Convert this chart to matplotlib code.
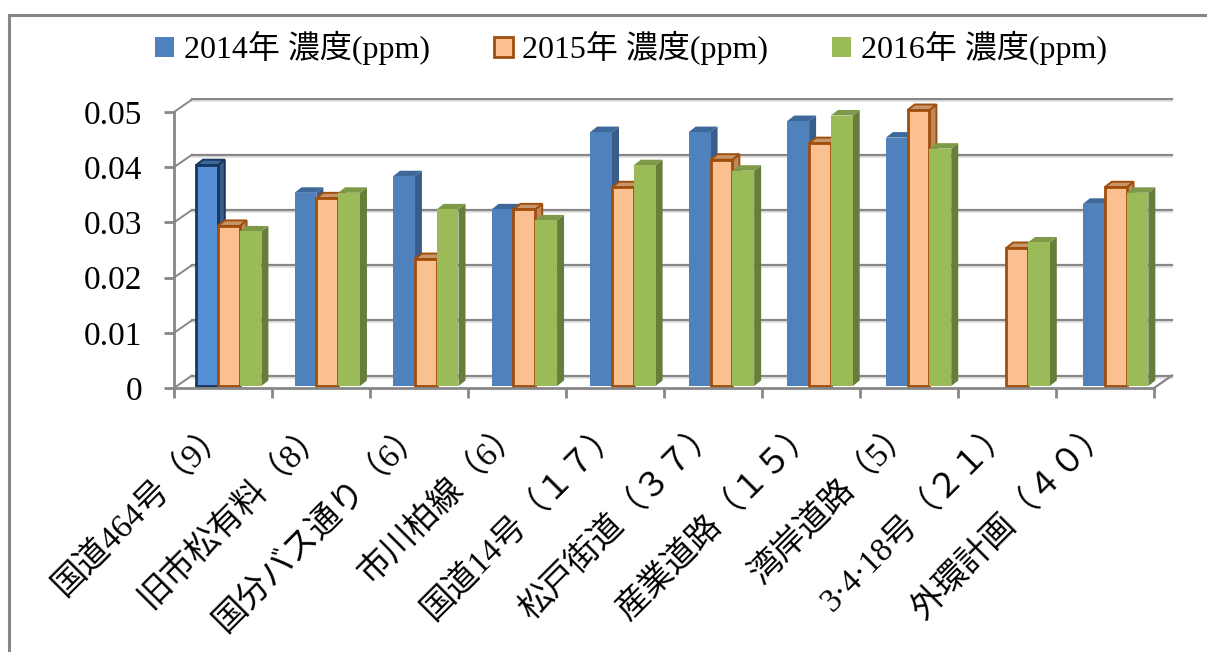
import matplotlib
matplotlib.use("Agg")
import matplotlib.pyplot as plt
from matplotlib.patches import Rectangle, Polygon, Patch
from matplotlib.transforms import ScaledTranslation

plt.rcParams['font.family'] = ['Liberation Serif', 'Noto Sans CJK JP']

# data
categories = ['国道464号（9）', '旧市松有料（8）', '国分バス通り（6）', '市川柏線（6）',
              '国道14号（１７）', '松戸街道（３７）', '産業道路（１５）', '湾岸道路（5）',
              '3·4·18号（２１）', '外環計画（４０）']
c2014 = [0.040, 0.035, 0.038, 0.032, 0.046, 0.046, 0.048, 0.045, None, 0.033]
c2015 = [0.029, 0.034, 0.023, 0.032, 0.036, 0.041, 0.044, 0.050, 0.025, 0.036]
c2016 = [0.028, 0.035, 0.032, 0.030, 0.040, 0.039, 0.049, 0.043, 0.026, 0.035]
series_names = ['2014年 濃度(ppm)', '2015年 濃度(ppm)', '2016年 濃度(ppm)']
yticks = [0, 0.01, 0.02, 0.03, 0.04, 0.05]
ytick_labels = ['0', '0.01', '0.02', '0.03', '0.04', '0.05']

# colours: front, side, top, edge
styles = [
    dict(front='#4F81BD', side='#385D8A', top='#3E6899', edge=None),
    dict(front='#FAC090', side='#B98A5E', top='#C8966B', edge='#A04E0C'),
    dict(front='#9BBB59', side='#677D3A', top='#7E9A48', edge=None),
]

W, H, DPI = 1207, 652, 100
fig = plt.figure(figsize=(W / DPI, H / DPI), dpi=DPI)

# axes placed so that front x axis 174..1174 px, y 388..98 px
px_per_cat = 98.0
px_per_val = 5520.0
left, right, bottom, top = 174, 1174, 388, 98
ax = fig.add_axes([left / W, (H - bottom) / H, (right - left) / W, (bottom - top) / H])
ax.set_xlim(0, (right - left) / px_per_cat)
ax.set_ylim(0, (bottom - top) / px_per_val)
ax.patch.set_visible(False)

grid_col = '#878787'
DX = 18 / px_per_cat      # back wall depth offset
DY = 12.5 / px_per_val
n = len(categories)

# back wall gridlines + connectors
shadow = ax.transData + ScaledTranslation(0, -2 / DPI, fig.dpi_scale_trans)
for v in yticks:
    ax.plot([DX, n + DX], [v + DY, v + DY], color='#dddddd', lw=1.2, zorder=1, transform=shadow)
    ax.plot([DX, n + DX], [v + DY, v + DY], color=grid_col, lw=1.6, zorder=1)
    ax.plot([0, DX], [v, v + DY], color=grid_col, lw=1.4, zorder=1)
ax.plot([n, n + DX], [0, DY], color=grid_col, lw=1.6, zorder=1)

# bars
bw = 21.8 / px_per_cat
sdx = 7 / px_per_cat
sdy = 5.5 / px_per_val
base = 2 / px_per_val
for i in range(n):
    off = (22 + 0.55 * i) / px_per_cat
    for k, vals in enumerate([c2014, c2015, c2016]):
        v = vals[i]
        if v is None:
            continue
        st = styles[k]
        x0 = i + off + k * bw
        ec = st['edge']
        lw = 2.0 if ec else 0
        if k == 0 and i == 0:
            ec, lw = '#17375E', 2.0
            front = '#5590D6'
        else:
            front = st['front']
        z = 2 + i * 3 + k
        side = Polygon([(x0 + bw, base), (x0 + bw + sdx, base + sdy),
                        (x0 + bw + sdx, base + v + sdy), (x0 + bw, base + v)],
                       closed=True, facecolor=st['side'], edgecolor=ec if ec else 'none',
                       lw=lw * 0.7, zorder=z)
        topf = Polygon([(x0, base + v), (x0 + sdx, base + v + sdy),
                        (x0 + bw + sdx, base + v + sdy), (x0 + bw, base + v)],
                       closed=True, facecolor=st['top'], edgecolor=ec if ec else 'none',
                       lw=lw * 0.7, zorder=z)
        frontf = Rectangle((x0, base), bw, v, facecolor=front,
                           edgecolor=ec if ec else 'none', lw=lw, zorder=z)
        ax.add_patch(side)
        ax.add_patch(topf)
        ax.add_patch(frontf)

# front axes
for s in ['top', 'right']:
    ax.spines[s].set_visible(False)
ax.spines['left'].set_bounds(0, 0.05)
ax.spines['bottom'].set_bounds(0, n)
for s in ['left', 'bottom']:
    ax.spines[s].set_color(grid_col)
    ax.spines[s].set_linewidth(2.0)
    ax.spines[s].set_zorder(50)

ax.set_yticks(yticks)
ax.set_yticklabels(ytick_labels)
ax.tick_params(axis='y', direction='out', length=7, width=2, color=grid_col,
               labelsize=24, pad=16)

ax.set_xticks(range(n + 1))
ax.set_xticklabels([])
ax.set_xticks([i + 0.5 for i in range(n)], minor=True)
ax.set_xticklabels(categories, minor=True)
ax.tick_params(axis='x', which='major', direction='out', length=7, width=2, color=grid_col)
ax.tick_params(axis='x', which='minor', length=0, labelsize=24, pad=27)
plt.setp(ax.get_xticklabels(minor=True), rotation=45, ha='right', va='center',
         rotation_mode='anchor')

# legend
handles = [Patch(facecolor=styles[0]['front'], edgecolor='none'),
           Patch(facecolor=styles[1]['front'], edgecolor=styles[1]['edge'], lw=2),
           Patch(facecolor=styles[2]['front'], edgecolor='none')]
fig.legend(handles, series_names, loc='center', bbox_to_anchor=(631 / W, 1 - 48 / H),
           ncol=3, frameon=False, fontsize=23, handlelength=0.6, handleheight=0.6,
           handletextpad=0.3, columnspacing=2.0)

# chart border
fig.add_artist(Rectangle((9 / W, -0.2), 1.2, 1.2 - 15 / H, transform=fig.transFigure,
                         fill=False, edgecolor='#868686', lw=2.2))

fig.savefig('out.png', dpi=DPI)
